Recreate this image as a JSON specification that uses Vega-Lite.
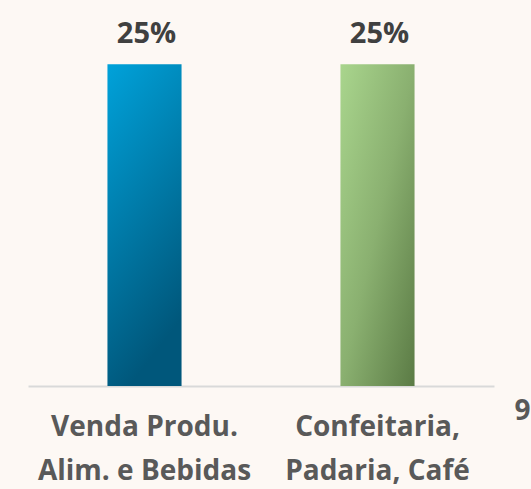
{
  "$schema": "https://vega.github.io/schema/vega-lite/v6.json",
  "width": 466,
  "height": 386,
  "autosize": {"type": "none"},
  "padding": {"left": 28, "top": 0, "right": 37, "bottom": 103},
  "background": "#FDF8F4",
  "config": {"view": {"stroke": null}},
  "data": {"values": [
    {"cat": "Venda Produ.|Alim. e Bebidas", "v": 0.25, "lbl": "25%"},
    {"cat": "Confeitaria,|Padaria, Café", "v": 0.25, "lbl": "25%"}
  ]},
  "encoding": {
    "x": {
      "field": "cat", "type": "nominal", "sort": null,
      "scale": {"domain": ["Venda Produ.|Alim. e Bebidas", "Confeitaria,|Padaria, Café"], "paddingInner": 0.682, "paddingOuter": 0.341},
      "axis": {
        "title": null, "labelAngle": 0, "labelExpr": "split(datum.label, '|')",
        "labelFont": "Open Sans", "labelFontSize": 28, "labelFontWeight": "bold",
        "labelColor": "#595959", "labelLineHeight": 44, "labelPadding": 27,
        "labelBaseline": "top", "labelLimit": 0, "labelOverlap": false,
        "ticks": false, "domainColor": "#D9D9D9", "domainWidth": 2
      }
    }
  },
  "layer": [
    {
      "transform": [{"filter": "datum.cat == 'Venda Produ.|Alim. e Bebidas'"}],
      "mark": {"type": "bar", "color": {"gradient": "linear", "x1": 0, "y1": 0, "x2": 0.3, "y2": 1,
        "stops": [{"offset": 0, "color": "#00A2DA"}, {"offset": 1, "color": "#00577B"}]}},
      "encoding": {"y": {"field": "v", "type": "quantitative", "scale": {"domain": [0, 0.3]}, "axis": null}}
    },
    {
      "transform": [{"filter": "datum.cat == 'Confeitaria,|Padaria, Café'"}],
      "mark": {"type": "bar", "color": {"gradient": "linear", "x1": 0, "y1": 0, "x2": 1, "y2": 1,
        "stops": [{"offset": 0, "color": "#A9D58D"}, {"offset": 0.5, "color": "#8AB070"}, {"offset": 1, "color": "#5B7B45"}]}},
      "encoding": {"y": {"field": "v", "type": "quantitative"}}
    },
    {
      "mark": {"type": "text", "font": "Open Sans", "fontSize": 29, "fontWeight": "bold", "color": "#404040", "baseline": "alphabetic", "dy": -21, "dx": 2},
      "encoding": {"y": {"field": "v", "type": "quantitative"}, "text": {"field": "lbl"}}
    },
    {
      "data": {"values": [{"cat": "Confeitaria,|Padaria, Café", "t": "9"}]},
      "mark": {"type": "text", "font": "Open Sans", "fontSize": 28, "fontWeight": "bold", "color": "#595959", "align": "left", "baseline": "alphabetic", "dx": 137, "dy": 34},
      "encoding": {"y": {"datum": 0, "type": "quantitative"}, "text": {"field": "t"}}
    }
  ]
}
